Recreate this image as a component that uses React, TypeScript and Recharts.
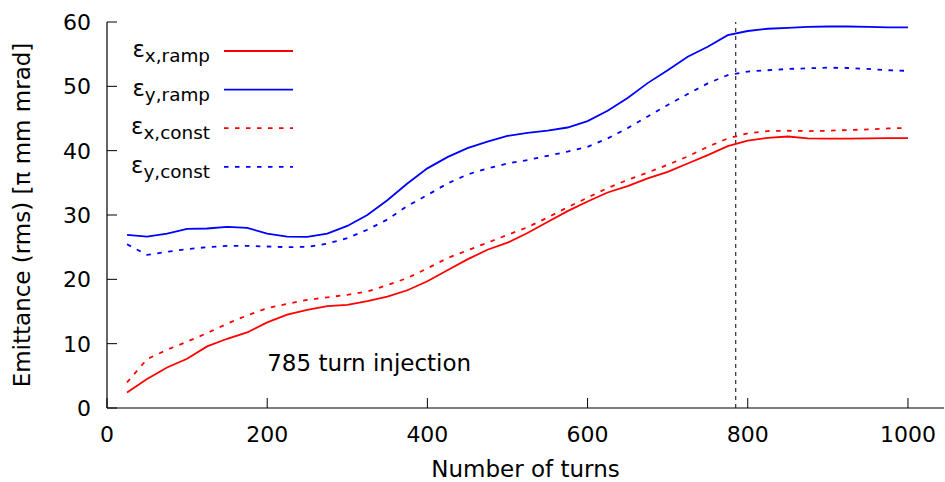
import React from 'react';
import { LineChart, Line, XAxis, YAxis, ReferenceLine, ReferenceDot, Legend } from 'recharts';

const turns = [25, 50, 75, 100, 125, 150, 175, 200, 225, 250, 275, 300, 325, 350, 375, 400, 425, 450, 475, 500, 525, 550, 575, 600, 625, 650, 675, 700, 725, 750, 775, 800, 825, 850, 875, 900, 925, 950, 975, 1000];

const exRamp = [2.42, 4.5, 6.3, 7.65, 9.57, 10.76, 11.74, 13.3, 14.5, 15.26, 15.84, 16.04, 16.6, 17.3, 18.3, 19.7, 21.4, 23.1, 24.6, 25.7, 27.2, 28.9, 30.6, 32.1, 33.5, 34.5, 35.7, 36.7, 38.0, 39.3, 40.7, 41.55, 42.0, 42.2, 41.9, 41.87, 41.87, 41.9, 41.95, 41.95];

const eyRamp = [26.9, 26.65, 27.1, 27.85, 27.9, 28.15, 28.0, 27.1, 26.65, 26.6, 27.1, 28.3, 30.0, 32.3, 34.9, 37.25, 39.0, 40.4, 41.4, 42.3, 42.75, 43.1, 43.6, 44.6, 46.2, 48.2, 50.5, 52.5, 54.6, 56.15, 57.95, 58.6, 58.95, 59.1, 59.25, 59.3, 59.3, 59.25, 59.15, 59.15];

const exConst = [3.98, 7.6, 9.05, 10.3, 11.65, 13.1, 14.4, 15.5, 16.2, 16.8, 17.2, 17.6, 18.1, 19.1, 20.2, 21.7, 23.3, 24.5, 25.7, 26.9, 28.1, 29.6, 31.2, 32.7, 34.2, 35.45, 36.6, 37.8, 39.1, 40.6, 41.9, 42.7, 43.05, 43.1, 43.05, 43.1, 43.2, 43.3, 43.45, 43.55];

const eyConst = [25.45, 23.8, 24.27, 24.7, 25.0, 25.2, 25.2, 25.1, 25.0, 25.05, 25.55, 26.4, 27.7, 29.3, 31.4, 33.1, 34.9, 36.3, 37.25, 38.0, 38.55, 39.2, 39.85, 40.6, 41.9, 43.5, 45.3, 47.1, 48.8, 50.45, 51.75, 52.3, 52.5, 52.7, 52.8, 52.9, 52.85, 52.7, 52.5, 52.4];

const xTicks = [0, 200, 400, 600, 800, 1000];
const yTicks = [0, 10, 20, 30, 40, 50, 60];
const injectionTurn = 785;
const annotation = { x: 200, y: 7, text: '785 turn injection' };

const xLabel = 'Number of turns';
const yLabel = 'Emittance (rms) [π mm mrad]';

const series = [
  { key: 'exRamp', sub: 'x,ramp', color: '#ff0000', dash: undefined as string | undefined },
  { key: 'eyRamp', sub: 'y,ramp', color: '#0000ff', dash: undefined as string | undefined },
  { key: 'exConst', sub: 'x,const', color: '#ff0000', dash: '4.5 6.5' },
  { key: 'eyConst', sub: 'y,const', color: '#0000ff', dash: '4.5 6.5' },
];

const data = turns.map((t, i) => ({
  turns: t,
  exRamp: exRamp[i],
  eyRamp: eyRamp[i],
  exConst: exConst[i],
  eyConst: eyConst[i],
}));

const FONT = "'DejaVu Sans', sans-serif";
const FS = 22;
const FS_LABEL = 23;
const TICK = 10;

const BottomTick = (p: any) => {
  const { x, y, payload } = p;
  return (
    <g>
      <line x1={x} x2={x} y1={y} y2={y - TICK} stroke="#000" strokeWidth={1} />
      <text x={x} y={y + 33.5} textAnchor="middle" fontSize={FS} fontFamily={FONT} fill="#000">
        {payload.value}
      </text>
    </g>
  );
};

const TopTick = (p: any) => {
  const { x, y } = p;
  return <line x1={x} x2={x} y1={y} y2={y + TICK} stroke="#000" strokeWidth={1} />;
};

const LeftTick = (p: any) => {
  const { x, y, payload } = p;
  return (
    <g>
      <line x1={x} x2={x + TICK} y1={y} y2={y} stroke="#000" strokeWidth={1} />
      <text x={x - 16} y={y + 8} textAnchor="end" fontSize={FS} fontFamily={FONT} fill="#000">
        {payload.value}
      </text>
    </g>
  );
};

const RightTick = (p: any) => {
  const { x, y } = p;
  return <line x1={x} x2={x - TICK} y1={y} y2={y} stroke="#000" strokeWidth={1} />;
};

const XTitle = (p: any) => {
  const vb = p.viewBox || { x: 107, y: 408, width: 837, height: 74 };
  return (
    <text x={vb.x + vb.width / 2} y={vb.y + 69} textAnchor="middle" fontSize={FS_LABEL} fontFamily={FONT} fill="#000">
      {xLabel}
    </text>
  );
};

const YTitle = (p: any) => {
  const vb = p.viewBox || { x: 0, y: 22, width: 107, height: 386 };
  const cx = vb.x + 30;
  const cy = vb.y + vb.height / 2;
  return (
    <text x={cx} y={cy} transform={`rotate(-90 ${cx} ${cy})`} textAnchor="middle" fontSize={FS_LABEL} fontFamily={FONT} fill="#000">
      {yLabel}
    </text>
  );
};

const renderLegend = () => (
  <svg width={320} height={190} style={{ display: 'block' }}>
    {series.map((s, i) => {
      const rowY = 51 + i * 38.6;
      return (
        <g key={s.key}>
          <text x={210} y={rowY + 6} textAnchor="end" fontSize={FS_LABEL} fontFamily={FONT} fill="#000">
            ε
            <tspan dy={5} fontSize={FS_LABEL * 0.8}>{s.sub}</tspan>
          </text>
          <line x1={224} x2={293} y1={rowY} y2={rowY} stroke={s.color} strokeWidth={1.8} strokeDasharray={s.dash} />
        </g>
      );
    })}
  </svg>
);

export default function App() {
  return (
    <div style={{ position: 'absolute', left: 0, top: 0, width: 945, height: 482, background: '#fff' }}>
      <LineChart width={945} height={482} data={data} margin={{ top: 22, right: 1, bottom: 0, left: 0 }}>
        <XAxis
          xAxisId="b"
          dataKey="turns"
          type="number"
          domain={[0, 1045]}
          allowDataOverflow
          ticks={xTicks}
          interval={0}
          height={74}
          tickSize={0}
          tickMargin={0}
          tickLine={false}
          axisLine={{ stroke: '#000', strokeWidth: 1.2 }}
          tick={(p: any) => <BottomTick {...p} />}
          label={<XTitle />}
        />
        <XAxis
          xAxisId="t"
          orientation="top"
          dataKey="turns"
          type="number"
          domain={[0, 1045]}
          allowDataOverflow
          ticks={xTicks}
          interval={0}
          height={0}
          tickSize={0}
          tickMargin={0}
          tickLine={false}
          axisLine={{ stroke: '#000', strokeWidth: 1.2 }}
          tick={(p: any) => <TopTick {...p} />}
        />
        <YAxis
          yAxisId="l"
          type="number"
          domain={[0, 60]}
          allowDataOverflow
          ticks={yTicks}
          interval={0}
          width={107}
          tickSize={0}
          tickMargin={0}
          tickLine={false}
          axisLine={{ stroke: '#000', strokeWidth: 1.2 }}
          tick={(p: any) => <LeftTick {...p} />}
          label={<YTitle />}
        />
        <YAxis
          yAxisId="r"
          orientation="right"
          type="number"
          domain={[0, 60]}
          allowDataOverflow
          ticks={yTicks}
          interval={0}
          width={0}
          tickSize={0}
          tickMargin={0}
          tickLine={false}
          axisLine={{ stroke: '#000', strokeWidth: 1.2 }}
          tick={(p: any) => <RightTick {...p} />}
        />
        <ReferenceLine
          xAxisId="b"
          yAxisId="l"
          x={injectionTurn}
          stroke="#000"
          strokeWidth={1}
          strokeDasharray="4 4"
        />
        {series.map((s) => (
          <Line
            key={s.key}
            xAxisId="b"
            yAxisId="l"
            type="linear"
            dataKey={s.key}
            stroke={s.color}
            strokeWidth={1.8}
            strokeDasharray={s.dash}
            dot={false}
            activeDot={false}
            isAnimationActive={false}
          />
        ))}
        <ReferenceDot
          xAxisId="b"
          yAxisId="l"
          x={annotation.x}
          y={annotation.y}
          r={0}
          shape={(p: any) => (
            <text x={p.cx} y={p.cy + 8.5} fontSize={FS_LABEL} fontFamily={FONT} fill="#000">
              {annotation.text}
            </text>
          )}
        />
        <Legend
          layout="horizontal"
          verticalAlign="middle"
          align="center"
          content={renderLegend}
          wrapperStyle={{ left: 0, top: 0, width: 320, height: 190 }}
        />
      </LineChart>
    </div>
  );
}
